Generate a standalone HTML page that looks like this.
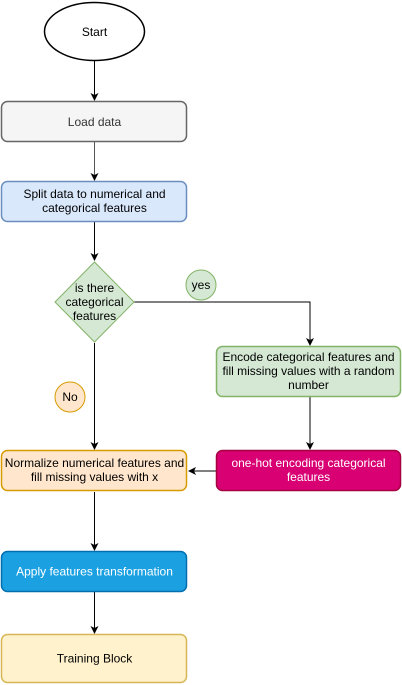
<!DOCTYPE html>
<html><head><meta charset="utf-8"><style>
html,body{margin:0;padding:0;background:#fff;width:402px;height:685px;overflow:hidden}
text{font-family:"Liberation Sans",Helvetica,sans-serif;font-size:12px;text-anchor:middle}
</style></head><body>
<svg width="402" height="685" viewBox="0 0 402 685" xmlns="http://www.w3.org/2000/svg">
<defs><marker id="a" markerWidth="8" markerHeight="8" refX="7" refY="4" orient="auto" markerUnits="userSpaceOnUse"><path d="M0,0 L8,4 L0,8 L2,4 z" fill="#000"/></marker></defs>
<g stroke="#000" stroke-width="1" fill="none" marker-end="url(#a)">
<line x1="94.5" y1="61" x2="94.5" y2="100"/>
<line x1="94.5" y1="142" x2="94.5" y2="180" stroke="#555"/>
<line x1="94.5" y1="222" x2="94.5" y2="260"/>
<line x1="94.5" y1="343" x2="94.5" y2="449"/>
<polyline points="134,302 310,302 310,345"/>
<line x1="310" y1="397" x2="310" y2="449"/>
<line x1="216" y1="471" x2="189" y2="471"/>
<line x1="94.5" y1="492" x2="94.5" y2="550"/>
<line x1="94.5" y1="592" x2="94.5" y2="633"/>
</g>
<ellipse cx="94.5" cy="31.5" rx="50" ry="29" fill="#fff" stroke="#000" stroke-width="1.5"/>
<text x="94.5" y="36">Start</text>
<rect x="1.5" y="101.5" width="185" height="40" rx="6" fill="#f5f5f5" stroke="#666" stroke-width="1.5"/>
<text x="94.5" y="126" fill="#333">Load data</text>
<rect x="1.5" y="181.5" width="185" height="40" rx="6" fill="#dae8fc" stroke="#6c8ebf" stroke-width="1.5"/>
<text x="94.5" y="198">Split data to numerical and</text>
<text x="94.5" y="212">categorical features</text>
<polygon points="94.5,262 134,302 94.5,342 55,302" fill="#d5e8d4" stroke="#82b366" stroke-width="1"/>
<text x="94.5" y="292">is there</text>
<text x="94.5" y="306">categorical</text>
<text x="94.5" y="320">features</text>
<circle cx="201" cy="285" r="15" fill="#d5e8d4" stroke="#82b366"/>
<text x="201" y="289">yes</text>
<circle cx="70" cy="397" r="15" fill="#ffe6cc" stroke="#d79b00"/>
<text x="70" y="401">No</text>
<rect x="216.5" y="346.5" width="184" height="50" rx="6" fill="#d5e8d4" stroke="#82b366" stroke-width="1.5"/>
<text x="308.5" y="361">Encode categorical features and</text>
<text x="308.5" y="375">fill missing values with a random</text>
<text x="308.5" y="389">number</text>
<rect x="1.5" y="450.5" width="185" height="40" rx="6" fill="#ffe6cc" stroke="#d79b00" stroke-width="1.5"/>
<text x="94.5" y="467">Normalize numerical features and</text>
<text x="94.5" y="481">fill missing values with x</text>
<rect x="216.5" y="450.5" width="184" height="40" rx="6" fill="#d80073" stroke="#a50040" stroke-width="1.5"/>
<text x="308.5" y="467" fill="#fff">one-hot encoding categorical</text>
<text x="308.5" y="481" fill="#fff">features</text>
<rect x="1.5" y="551.5" width="185" height="40" rx="6" fill="#1ba1e2" stroke="#006eaf" stroke-width="1.5"/>
<text x="94.5" y="575.5" fill="#fff">Apply features transformation</text>
<rect x="1.5" y="634.5" width="185" height="48" rx="6" fill="#fff2cc" stroke="#d6b656" stroke-width="1.5"/>
<text x="94.5" y="662.5">Training Block</text>
</svg>
</body></html>
